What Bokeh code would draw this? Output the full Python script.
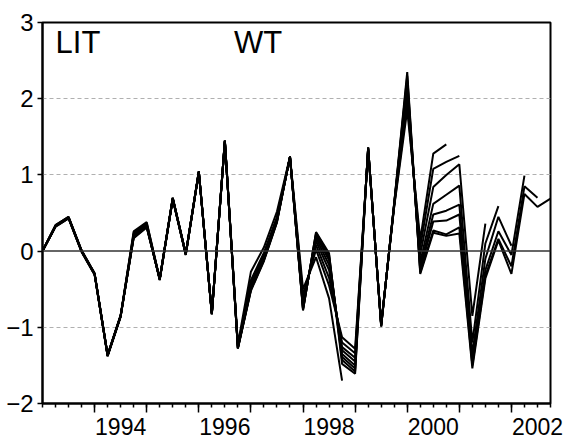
from bokeh.plotting import figure
from bokeh.layouts import column
from bokeh.models import FixedTicker, Span, Label, Range1d
from bokeh.core.properties import value
from bokeh.embed import file_html
from bokeh.resources import INLINE

# Quarterly observations, index 0 = 1993Q1 ... 39 = 2002Q4
first_year = 1993
n_quarters = 40

# WT for Lithuania, one series per data vintage (named by last available quarter)
wt_1998q4 = [0.00, 0.33, 0.44, 0.00, -0.30, -1.37, -0.85, 0.26, 0.38, -0.37, 0.69, -0.04,
             1.04, -0.82, 1.45, -1.22, -0.27, 0.05, 0.52, 1.24, -0.50, -0.08, -0.62, -1.70]
wt_2000q4 = [0.00, 0.34, 0.45, 0.01, -0.29, -1.36, -0.84, 0.24, 0.37, -0.36, 0.70, -0.03,
             1.05, -0.81, 1.45, -1.24, -0.38, -0.02, 0.45, 1.24, -0.58, 0.02, -0.45, -1.13,
             -1.28, 1.32, -0.95, 0.58, 1.85, 0.15, 1.28, 1.40]
wt_2001q1 = [0.00, 0.33, 0.44, 0.00, -0.30, -1.37, -0.85, 0.22, 0.35, -0.37, 0.69, -0.04,
             1.04, -0.82, 1.44, -1.25, -0.42, -0.05, 0.43, 1.23, -0.63, 0.08, -0.35, -1.20,
             -1.34, 1.33, -0.96, 0.59, 1.95, 0.05, 1.08, 1.17, 1.25]
wt_2001q3 = [0.00, 0.32, 0.43, -0.01, -0.31, -1.38, -0.86, 0.21, 0.34, -0.38, 0.68, -0.05,
             1.03, -0.83, 1.44, -1.26, -0.45, -0.07, 0.42, 1.23, -0.68, 0.13, -0.25, -1.26,
             -1.40, 1.34, -0.97, 0.60, 2.05, -0.05, 0.84, 1.00, 1.14, -0.85, 0.36]
wt_2001q4 = [0.00, 0.33, 0.44, 0.00, -0.30, -1.37, -0.85, 0.20, 0.33, -0.37, 0.69, -0.04,
             1.04, -0.82, 1.44, -1.27, -0.47, -0.09, 0.41, 1.24, -0.72, 0.17, -0.18, -1.30,
             -1.45, 1.35, -0.97, 0.61, 2.12, -0.15, 0.62, 0.74, 0.86, -1.20, 0.10, 0.59]
wt_2002q1 = [0.00, 0.32, 0.43, -0.01, -0.31, -1.38, -0.86, 0.19, 0.33, -0.38, 0.68, -0.05,
             1.03, -0.83, 1.43, -1.27, -0.49, -0.10, 0.40, 1.23, -0.75, 0.20, -0.12, -1.35,
             -1.50, 1.36, -0.98, 0.62, 2.18, -0.20, 0.48, 0.53, 0.61, -1.35, -0.10, 0.45, 0.07]
wt_2002q2 = [0.00, 0.33, 0.44, 0.00, -0.30, -1.37, -0.85, 0.18, 0.32, -0.37, 0.69, -0.04,
             1.04, -0.82, 1.44, -1.27, -0.50, -0.11, 0.39, 1.24, -0.76, 0.22, -0.08, -1.39,
             -1.54, 1.36, -0.98, 0.62, 2.24, -0.25, 0.39, 0.40, 0.48, -1.45, -0.25, 0.26, -0.05,
             0.99]
wt_2002q3 = [0.00, 0.34, 0.45, 0.01, -0.29, -1.36, -0.84, 0.18, 0.32, -0.36, 0.70, -0.03,
             1.05, -0.81, 1.45, -1.28, -0.51, -0.12, 0.38, 1.24, -0.77, 0.24, -0.05, -1.43,
             -1.58, 1.36, -0.99, 0.63, 2.30, -0.28, 0.27, 0.22, 0.31, -1.50, -0.32, 0.16, -0.20,
             0.85, 0.70]
wt_2002q4 = [0.00, 0.33, 0.44, 0.00, -0.30, -1.37, -0.85, 0.17, 0.31, -0.37, 0.69, -0.04,
             1.04, -0.82, 1.45, -1.28, -0.52, -0.13, 0.38, 1.24, -0.78, 0.25, -0.03, -1.48,
             -1.61, 1.36, -0.99, 0.63, 2.35, -0.30, 0.24, 0.20, 0.23, -1.54, -0.36, 0.14, -0.30,
             0.75, 0.58, 0.69]

vintages = [wt_1998q4, wt_2000q4, wt_2001q1, wt_2001q3, wt_2001q4,
            wt_2002q1, wt_2002q2, wt_2002q3, wt_2002q4]

y_ticks = [-2, -1, 0, 1, 2, 3]
grid_levels = [-1, 1, 2]
year_labels = ["1994", "1996", "1998", "2000", "2002"]

FONT = "Liberation Sans"
W = 568
PLOT_H, STRIP_H = 413, 26
LEFT, RIGHT, TOP, BOTTOM = 42, 18, 22, 10

p = figure(width=W, height=PLOT_H,
           x_range=Range1d(0, n_quarters - 1), y_range=Range1d(-2, 3),
           output_backend="svg", toolbar_location=None,
           min_border_left=LEFT, min_border_right=RIGHT,
           min_border_top=TOP, min_border_bottom=BOTTOM)
p.frame_align = False
p.background_fill_color = "white"
p.border_fill_color = "white"
p.outline_line_color = "black"
p.outline_line_width = 2

for series in vintages:
    p.line(list(range(len(series))), series, line_color="black", line_width=2.0)

# horizontal reference lines
p.xgrid.visible = False
p.ygrid.ticker = FixedTicker(ticks=grid_levels)
p.ygrid.grid_line_color = "#b0b0b0"
p.ygrid.grid_line_dash = "4 3"
p.ygrid.grid_line_width = 1
p.add_layout(Span(location=0, dimension="width", line_color="#333333", line_width=1.5))

# y axis, negative values written with a true minus sign
p.yaxis.ticker = FixedTicker(ticks=y_ticks)
p.yaxis.major_label_overrides = {t: ("\u2212" + str(-t) if t < 0 else str(t)) for t in y_ticks}
p.yaxis.major_tick_out = 5
p.yaxis.major_tick_in = 0
p.yaxis.major_tick_line_width = 1.5
p.yaxis.axis_line_width = 2
p.yaxis.major_label_standoff = 4
p.yaxis.major_label_text_font = FONT
p.yaxis.major_label_text_font_size = "24px"
p.yaxis.major_label_text_color = "black"

# x axis: long ticks at year starts, short ticks every quarter
year_starts = list(range(4, n_quarters, 4))
p.xaxis.ticker = FixedTicker(ticks=year_starts, minor_ticks=list(range(n_quarters)))
p.xaxis.major_label_overrides = {t: "" for t in year_starts}
p.xaxis.major_label_text_font_size = "0px"
p.xaxis.major_label_standoff = 0
p.xaxis.major_tick_out = 9
p.xaxis.major_tick_in = 0
p.xaxis.minor_tick_out = 4
p.xaxis.minor_tick_in = 0
p.xaxis.major_tick_line_width = 1.5
p.xaxis.minor_tick_line_width = 1.5
p.xaxis.axis_line_width = 2

# panel captions
p.add_layout(Label(x=1.0, y=2.74, text="LIT", text_align="left",
                   text_baseline="alphabetic", text_font=FONT,
                   text_font_size="31px", text_color="black"))
p.add_layout(Label(x=14.7, y=2.74, text="WT", text_align="left",
                   text_baseline="alphabetic", text_font=FONT,
                   text_font_size="31px", text_color="black"))

# strip under the chart carrying the year names, centred under each labelled year;
# its x scale lines up with the chart's quarter positions
px_per_q = (W - LEFT - RIGHT) / (n_quarters - 1)
strip = figure(width=W, height=STRIP_H,
               x_range=Range1d(-LEFT / px_per_q, (W - LEFT) / px_per_q),
               y_range=Range1d(0, STRIP_H),
               output_backend="svg", toolbar_location=None, min_border=0,
               x_axis_location=None, y_axis_location=None)
strip.frame_align = False
strip.outline_line_color = None
strip.grid.visible = False
strip.background_fill_color = "white"
strip.border_fill_color = "white"
year_centres = [(int(yl) - first_year) * 4 + 2 for yl in year_labels]
strip.text(x=year_centres, y=[13] * len(year_labels), text=year_labels,
           text_align="center", text_baseline="middle",
           text_font=value(FONT), text_font_size=value("23px"), text_color="black")

layout = column(p, strip, spacing=0)
open("out.html", "w").write(file_html(layout, INLINE))
